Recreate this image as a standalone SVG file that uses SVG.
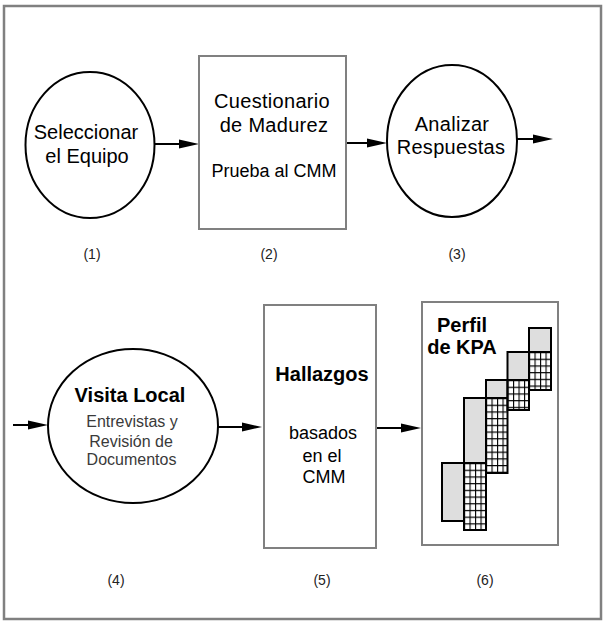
<svg xmlns="http://www.w3.org/2000/svg" width="606" height="623" viewBox="0 0 606 623">
<style>
text{font-family:"Liberation Sans",Arial,sans-serif;fill:#000;text-anchor:middle}
.t20{font-size:20px}
.b20{font-size:20px;font-weight:bold}
.t18{font-size:18px}
.t16{font-size:16px;fill:#3a3a3a}
.lbl{font-size:14px;fill:#222}
.ell{fill:#fff;stroke:#000;stroke-width:2}
.box{fill:#fff;stroke:#808080;stroke-width:2}
.conn{stroke:#000;stroke-width:2;fill:none;marker-end:url(#ah)}
.gray{fill:#dedede;stroke:#000;stroke-width:2}
.hatch{fill:url(#grid);stroke:#000;stroke-width:2}
</style>
<defs>
<marker id="ah" viewBox="0 0 20 10" markerWidth="20" markerHeight="10" refX="14" refY="5" markerUnits="userSpaceOnUse" orient="auto">
<path d="M0,0.5 L20,5 L0,9.5 z" fill="#000"/>
</marker>
<pattern id="grid" patternUnits="userSpaceOnUse" width="5.5" height="6.7">
<rect width="5.5" height="6.7" fill="#fff"/>
<path d="M0,0 H5.5 M0,0 V6.7" stroke="#000" stroke-width="2.2" fill="none"/>
</pattern>
</defs>
<rect x="4" y="6" width="597" height="613" fill="#fff" stroke="#808080" stroke-width="2.5"/>

<g id="connectors">
<line class="conn" x1="155" y1="144" x2="193" y2="144"/>
<line class="conn" x1="346" y1="143" x2="381" y2="143"/>
<line class="conn" x1="517" y1="139" x2="547" y2="139"/>
<line class="conn" x1="13" y1="425" x2="42" y2="425"/>
<line class="conn" x1="218" y1="427" x2="256" y2="427"/>
<line class="conn" x1="376" y1="428" x2="415" y2="428"/>
</g>

<g id="n1">
<ellipse class="ell" cx="90" cy="145" rx="64.5" ry="73"/>
<text class="t20" x="86" y="139">Seleccionar</text>
<text class="t20" x="87" y="163">el Equipo</text>
<text class="lbl" x="92" y="259">(1)</text>
</g>

<g id="n2">
<rect class="box" x="199" y="56" width="147" height="173"/>
<text class="t20" x="272" y="108" letter-spacing="0.3">Cuestionario</text>
<text class="t20" x="274" y="132" letter-spacing="0.3">de Madurez</text>
<text class="t18" x="274" y="177">Prueba al CMM</text>
<text class="lbl" x="269" y="259">(2)</text>
</g>

<g id="n3">
<ellipse class="ell" cx="452" cy="141" rx="65" ry="76"/>
<text class="t20" x="452" y="131" letter-spacing="0.3">Analizar</text>
<text class="t20" x="451" y="154" letter-spacing="0.3">Respuestas</text>
<text class="lbl" x="457" y="259">(3)</text>
</g>

<g id="n4">
<ellipse class="ell" cx="133" cy="426" rx="85" ry="77"/>
<text class="b20" x="130" y="402">Visita Local</text>
<text class="t16" x="132" y="427">Entrevistas y</text>
<text class="t16" x="131" y="447">Revisión de</text>
<text class="t16" x="131.5" y="465">Documentos</text>
<text class="lbl" x="116" y="585">(4)</text>
</g>

<g id="n5">
<rect class="box" x="264" y="305" width="112" height="243"/>
<text class="b20" x="322" y="381">Hallazgos</text>
<text class="t18" x="323" y="439">basados</text>
<text class="t18" x="322" y="462">en el</text>
<text class="t18" x="324" y="483">CMM</text>
<text class="lbl" x="322" y="585">(5)</text>
</g>

<g id="n6">
<rect class="box" x="422" y="302" width="136" height="243"/>
<text class="b20" x="462" y="332">Perfil</text>
<text class="b20" x="462" y="354">de KPA</text>
<rect class="gray" x="442" y="463" width="22" height="58"/>
<rect class="gray" x="464" y="398" width="22" height="65"/>
<rect class="gray" x="486" y="380" width="21.5" height="18"/>
<rect class="gray" x="507.5" y="352" width="21.5" height="28"/>
<rect class="gray" x="529" y="328" width="22" height="24"/>
<g transform="translate(464,463)"><rect class="hatch" width="22" height="67"/></g>
<g transform="translate(486,398)"><rect class="hatch" width="21.5" height="75"/></g>
<g transform="translate(507.5,380)"><rect class="hatch" width="21.5" height="30"/></g>
<g transform="translate(529,352)"><rect class="hatch" width="22" height="38"/></g>
<text class="lbl" x="485" y="585">(6)</text>
</g>
</svg>
